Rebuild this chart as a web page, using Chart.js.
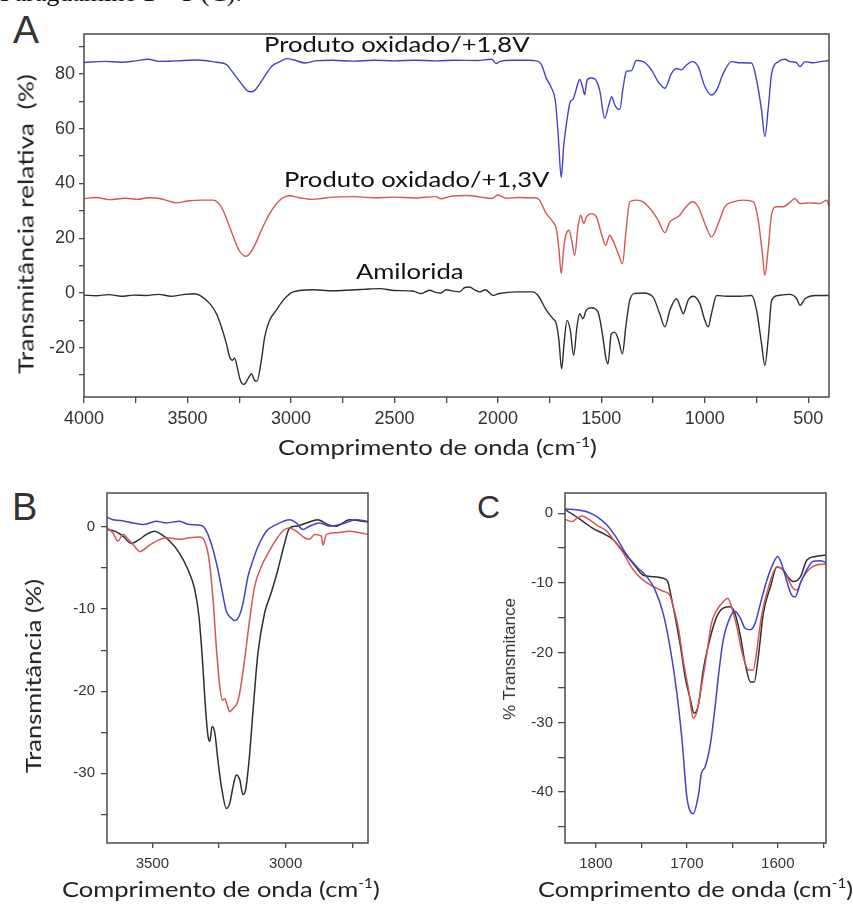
<!DOCTYPE html>
<html>
<head>
<meta charset="utf-8">
<script src="https://cdn.jsdelivr.net/npm/chart.js@4.4.1/dist/chart.umd.min.js"></script>
<style>
  body { margin: 0; width: 853px; height: 907px; position: relative; background: #fff; overflow: hidden; }
  canvas { position: absolute; }
  .txt { position: absolute; white-space: nowrap; color: #222; font-family: Lato, "Open Sans", sans-serif; }
  .letter { position: absolute; font-family: "Liberation Sans", Arial, sans-serif; color: #333; line-height: 1; }
  .xtitle { transform-origin: 0 50%; }
  .ytitle { transform: translate(-50%, -50%) rotate(-90deg) scaleX(var(--sx)); }
  sup { font-size: 0.6em; vertical-align: 0.65em; line-height: 0; }
  #head { position: absolute; left: 0; top: -20px; font: 26px/26px "Liberation Serif", "Times New Roman", serif; color: #111; white-space: nowrap; }
</style>
</head>
<body>
<div id="head">Paraguamine 1 – 3 (C).</div>

<div class="letter" style="left:13px;top:10px;font-size:39px">A</div>
<div class="letter" style="left:12px;top:488px;font-size:38px">B</div>
<div class="letter" style="left:477px;top:491px;font-size:32px">C</div>

<canvas id="chartA" width="853" height="470" style="left:0;top:0"></canvas>
<canvas id="chartB" width="430" height="437" style="left:0;top:470px"></canvas>
<canvas id="chartC" width="423" height="437" style="left:430px;top:470px"></canvas>

<div class="txt ytitle" style="left:25px;top:224px;font-size:21px;line-height:25px;--sx:1.26">Transmitância relativa&nbsp; (%)</div>
<div class="txt xtitle" style="left:278px;top:434px;font-size:21px;line-height:25px;transform:scaleX(1.22)">Comprimento de onda (cm<sup>-1</sup>)</div>

<div class="txt ytitle" style="left:33px;top:676px;font-size:22px;line-height:26px;--sx:1.16">Transmitância (%)</div>
<div class="txt xtitle" style="left:62px;top:876px;font-size:22px;line-height:26px;transform:scaleX(1.16)">Comprimento de onda (cm<sup>-1</sup>)</div>

<div class="txt ytitle" style="left:510px;top:659px;font-size:17px;line-height:20px;font-family:'Liberation Sans',Arial,sans-serif;color:#333;--sx:1">% Transmitance</div>
<div class="txt xtitle" style="left:538px;top:876px;font-size:22px;line-height:26px;transform:scaleX(1.15)">Comprimento de onda (cm<sup>-1</sup>)</div>

<script>
// ---------- panel A : full spectra ----------
const aWave18 = [4000, 3900, 3820, 3750, 3690, 3640, 3550, 3450, 3360, 3312, 3290, 3260, 3230, 3210, 3194, 3175, 3150, 3120, 3090, 3054, 3020, 2980, 2930, 2880, 2800, 2700, 2600, 2500, 2400, 2300, 2200, 2100, 2030, 2008, 1990, 1930, 1850, 1815, 1790, 1766, 1745, 1721, 1708, 1694, 1681, 1666, 1650, 1637, 1623, 1605, 1592, 1581, 1569, 1550, 1532, 1508, 1484, 1463, 1450, 1435, 1411, 1395, 1379, 1355, 1331, 1298, 1258, 1226, 1193, 1161, 1137, 1113, 1089, 1060, 1032, 1000, 968, 943, 911, 871, 830, 774, 750, 726, 710, 693, 677, 645, 613, 589, 560, 540, 516, 476, 443, 400];
const aT18 = [84.2, 84.6, 84.3, 84.8, 85.4, 84.6, 84.8, 85.1, 84.3, 83.5, 81.5, 78.5, 75.5, 73.8, 73.5, 74, 76.5, 80, 83, 84.5, 85.6, 85, 84, 84.8, 85, 84.7, 85, 84.8, 85, 84.8, 85, 84.9, 85.4, 83.8, 84.6, 85, 85, 84.8, 83.5, 78.4, 75.5, 69.3, 57, 42.2, 54.6, 63.2, 69.9, 70.7, 74, 78, 75.6, 72.4, 77.8, 78.5, 78.2, 74, 63.8, 69, 71.7, 68.6, 67, 75, 80.9, 81.2, 84.9, 84.5, 81.5, 77.2, 74.8, 80.2, 82, 81.5, 83.3, 84.5, 82.7, 75.4, 72.3, 74.1, 80.2, 84.5, 84.1, 84, 77.8, 66.8, 57.1, 68, 80.2, 84.5, 85.4, 84.5, 84.3, 82.7, 84.5, 84.1, 84.5, 84.9];

const aWave13 = [4000, 3940, 3880, 3800, 3740, 3690, 3640, 3600, 3553, 3500, 3430, 3376, 3350, 3328, 3296, 3272, 3251, 3231, 3215, 3199, 3175, 3143, 3103, 3054, 3006, 2960, 2900, 2862, 2800, 2700, 2600, 2500, 2400, 2300, 2275, 2230, 2150, 2080, 2030, 2000, 1960, 1900, 1830, 1806, 1766, 1734, 1718, 1705, 1694, 1681, 1669, 1656, 1643, 1629, 1613, 1600, 1585, 1572, 1548, 1524, 1500, 1479, 1460, 1444, 1419, 1398, 1382, 1363, 1331, 1298, 1258, 1226, 1193, 1169, 1145, 1121, 1097, 1060, 1032, 1000, 968, 935, 903, 863, 814, 766, 742, 722, 710, 693, 677, 653, 621, 590, 565, 540, 492, 443, 411, 400];
const aT13 = [34.5, 34.9, 34.1, 34.6, 34.2, 34.8, 34.6, 33.8, 32.9, 33.6, 33.9, 33.9, 32.8, 30.2, 24.1, 19.3, 15.6, 13.8, 13.4, 14.4, 17.4, 22.9, 29, 33.9, 35.5, 34.8, 34.2, 34.4, 35, 35.2, 34.8, 35, 34.7, 35.2, 34.4, 35.3, 35.6, 35, 34.5, 35.8, 34.6, 34.9, 34.8, 34.5, 29, 26, 23.5, 16, 7.1, 17, 21.7, 22.9, 19, 13.8, 24.1, 28.4, 25.4, 27.8, 29, 27.8, 21.7, 17.4, 21.1, 19.2, 14.4, 10.7, 21.7, 33.3, 33.9, 33.3, 30.2, 26.6, 22, 26, 27.2, 28.4, 30.9, 33.3, 31.5, 25.4, 20.5, 25.4, 31.5, 33.3, 33.9, 33.3, 26.6, 14.4, 6.5, 16.8, 29, 31.5, 31.5, 33, 34.5, 32.7, 32.9, 32.7, 33.9, 31.5];

const aWaveAm = [4000, 3940, 3880, 3820, 3760, 3700, 3640, 3580, 3520, 3470, 3440, 3392, 3360, 3336, 3312, 3296, 3283, 3272, 3260, 3247, 3228, 3207, 3191, 3175, 3164, 3143, 3127, 3103, 3071, 3038, 2990, 2894, 2800, 2733, 2650, 2572, 2500, 2411, 2371, 2331, 2300, 2275, 2250, 2210, 2185, 2160, 2137, 2110, 2089, 2060, 2024, 1992, 1911, 1831, 1806, 1766, 1734, 1718, 1705, 1692, 1679, 1666, 1650, 1634, 1618, 1605, 1589, 1573, 1548, 1516, 1495, 1479, 1468, 1452, 1436, 1419, 1398, 1382, 1363, 1339, 1298, 1250, 1218, 1193, 1169, 1137, 1113, 1105, 1081, 1056, 1024, 1000, 984, 968, 943, 895, 830, 774, 750, 726, 710, 693, 677, 645, 589, 556, 540, 516, 460, 400];
const aTAm = [-0.8, -1, -0.6, -1.2, -0.8, -0.9, -0.5, -1.2, -0.6, -0.3, -0.9, -3.9, -7.6, -12.4, -18.5, -23.4, -24.6, -23.8, -27, -31.3, -33.4, -31.3, -29.5, -32, -32.2, -24.6, -16.1, -10, -6.3, -2.7, 0.4, 1.2, 0.8, 1, 1.3, 1.6, 0.9, 0.7, -0.2, 1, 0.2, 0, 1.2, 0.6, 0.4, 2, 2.2, 1, 0.4, 1.2, -0.9, -0.2, 0.4, 0.4, -0.9, -6.3, -9.4, -11.2, -17.3, -27.7, -17.3, -10, -13.7, -22.8, -12.4, -7.6, -9.4, -6.3, -5.4, -7, -14.9, -23.4, -25.9, -14.9, -14.3, -16.7, -22.2, -12.4, -2.7, -0.2, 0, -1.5, -7.6, -12.4, -6.3, -2.1, -6.3, -7.6, -2.7, -1.2, -3.9, -10, -12.4, -7.6, -0.9, -1.2, -1.2, -0.9, -6.3, -18.5, -26.5, -16.1, -2.7, -0.9, -0.5, -2.1, -4.5, -2.1, -0.9, -0.9];

const aTickX = [500, 750, 1000, 1250, 1500, 1750, 2000, 2250, 2500, 2750, 3000, 3250, 3500, 3750, 4000];
const aLabelX = [500, 1000, 1500, 2000, 2500, 3000, 3500, 4000];
const aTickY = [-30, -20, -10, 0, 10, 20, 30, 40, 50, 60, 70, 80, 90];
const aLabelY = [-20, 0, 20, 40, 60, 80];
const aCurveNames = ["Produto oxidado/+1,8V", "Produto oxidado/+1,3V", "Amilorida"];

// ---------- panel B : O-H / N-H region ----------
const bWave18 = [3670, 3648, 3620, 3572, 3535, 3485, 3447, 3398, 3360, 3316, 3297, 3272, 3254, 3237, 3222, 3204, 3191, 3175, 3160, 3141, 3122, 3104, 3072, 3035, 2985, 2960, 2935, 2910, 2872, 2835, 2785, 2735, 2691];
const bT18 = [1.2, 0.9, 0.8, 0.5, 0.3, 0.7, 0.5, 0.7, 0.3, 0.2, -0.5, -2.8, -5.2, -8, -10.3, -11.1, -11.4, -10.9, -9.3, -6, -4, -2.4, -0.5, 0.3, 0.9, 0.5, -0.3, 0.1, 0.5, 0.1, 0.4, 0.9, 0.7];

const bWave13 = [3670, 3648, 3629, 3610, 3590, 3560, 3548, 3510, 3472, 3447, 3398, 3360, 3322, 3304, 3287, 3272, 3260, 3247, 3237, 3229, 3220, 3210, 3197, 3182, 3170, 3154, 3135, 3116, 3091, 3066, 3035, 3004, 2985, 2960, 2929, 2910, 2891, 2866, 2860, 2847, 2810, 2760, 2722, 2691];
const bT13 = [-0.1, -0.7, -1.7, -0.9, -1.5, -2.6, -3, -2.2, -1.5, -1.3, -1.5, -1.3, -1.2, -1.7, -4, -8.9, -14.6, -19.4, -21.1, -20.9, -21.6, -22.5, -22.1, -21.5, -19.8, -16.2, -11.3, -7.2, -4.8, -3.2, -1.5, -0.3, -0.1, -0.5, -1.3, -1.5, -0.9, -1.1, -2.2, -0.9, -0.7, -0.5, -0.7, -0.9];

const bWaveAm = [3670, 3641, 3610, 3579, 3548, 3522, 3491, 3466, 3435, 3398, 3366, 3341, 3325, 3312, 3300, 3291, 3284, 3276, 3266, 3254, 3241, 3222, 3210, 3197, 3185, 3172, 3160, 3150, 3137, 3122, 3104, 3079, 3054, 3029, 3004, 2985, 2960, 2922, 2879, 2841, 2810, 2760, 2729, 2691];
const bTAm = [-0.3, -0.5, -1.1, -2, -1.5, -0.9, -0.5, -0.9, -1.7, -3.2, -5.2, -7.6, -10.9, -16.2, -22.3, -25.5, -26.1, -24.3, -25, -28.4, -31.6, -34.3, -33.7, -31.6, -30.2, -30.8, -32.6, -32, -28.4, -22.3, -15.4, -10.5, -8, -5.2, -2, -0.1, 0.1, 0.5, 0.9, 0.3, 0.1, 0.9, 0.8, 0.6];

const bTickX = [2750, 3000, 3250, 3500];
const bLabelX = [3000, 3500];
const bTickY = [-35, -30, -25, -20, -15, -10, -5, 0];
const bLabelY = [-30, -20, -10, 0];

// ---------- panel C : C=O region ----------
const cWave18 = [1834, 1821, 1810, 1799, 1788, 1777, 1766, 1755, 1744, 1735, 1726, 1718, 1711, 1705, 1700, 1693, 1687, 1684, 1680, 1674, 1669, 1665, 1660, 1652, 1647, 1641, 1636, 1630, 1625, 1619, 1612, 1605, 1600, 1596, 1590, 1585, 1581, 1575, 1568, 1561, 1553, 1547];
const cT18 = [0.6, 0.5, 0.2, -0.5, -1.7, -3.6, -6, -7.7, -9.1, -11, -14.4, -19.6, -25.8, -33, -40.7, -43.1, -40.2, -37.3, -36.4, -33, -27.8, -23, -18.2, -14.8, -14.1, -15.1, -16.5, -16.7, -15.8, -12.9, -9.6, -7.2, -6.2, -7.2, -9.8, -11.7, -12, -10, -8.1, -6.9, -6.8, -7.1];

const cWave13 = [1834, 1826, 1821, 1815, 1810, 1799, 1788, 1779, 1770, 1759, 1748, 1737, 1726, 1719, 1715, 1709, 1704, 1698, 1693, 1689, 1684, 1678, 1673, 1667, 1660, 1655, 1651, 1645, 1640, 1632, 1627, 1623, 1618, 1610, 1601, 1596, 1590, 1583, 1579, 1574, 1566, 1557, 1547];
const cT13 = [-0.9, -1.2, -0.7, -0.4, -0.7, -1.7, -2.6, -4.1, -5.7, -8.1, -9.6, -10.5, -11.2, -11.7, -13.4, -16.7, -21.1, -25.4, -29.4, -28.5, -24.9, -20.1, -15.8, -13.9, -12.7, -12.2, -13.4, -16.3, -19.6, -22.5, -22.5, -19.6, -14.8, -10.5, -7.7, -7.9, -9.1, -10.8, -11, -9.6, -8.1, -7.4, -7.3];

const cWaveAm = [1834, 1825, 1814, 1803, 1792, 1781, 1770, 1759, 1748, 1737, 1727, 1721, 1718, 1713, 1707, 1702, 1696, 1692, 1687, 1682, 1674, 1667, 1660, 1652, 1647, 1641, 1636, 1630, 1626, 1621, 1616, 1608, 1601, 1594, 1588, 1583, 1575, 1568, 1559, 1547];
const cTAm = [0.5, -0.2, -1.2, -2.2, -2.9, -3.8, -5.5, -7.2, -8.9, -9.1, -9.3, -9.8, -11.5, -14.8, -19.1, -23.4, -26.8, -28.7, -27.3, -22.5, -17.7, -14.8, -13.6, -13.4, -14.4, -17.7, -21.5, -24.2, -24.2, -20.1, -14.4, -10.5, -7.7, -8.1, -9.3, -9.8, -9.1, -6.7, -6.2, -6];

const cTickX = [1550, 1600, 1650, 1700, 1750, 1800];
const cLabelX = [1600, 1700, 1800];
const cTickY = [-45, -40, -35, -30, -25, -20, -15, -10, -5, 0];
const cLabelY = [-40, -30, -20, -10, 0];

const BLUE = "#4343c4";
const RED = "#d45656";
const BLACK = "#2e2e2e";

Chart.defaults.animation = false;
Chart.defaults.plugins.legend.display = false;
Chart.defaults.plugins.tooltip.enabled = false;

function toPoints(xs, ys) {
  return xs.map((x, i) => ({ x: x, y: ys[i] }));
}

function series(xs, ys, color, width) {
  return {
    data: toPoints(xs, ys),
    borderColor: color,
    borderWidth: width,
    pointRadius: 0,
    fill: false,
    cubicInterpolationMode: "monotone",
  };
}

const framePlugin = {
  id: "frame",
  afterDraw(chart) {
    const { ctx, chartArea: a } = chart;
    ctx.save();
    ctx.strokeStyle = "#4a4a4a";
    ctx.lineWidth = 1.5;
    ctx.strokeRect(a.left, a.top, a.right - a.left, a.bottom - a.top);
    ctx.restore();
  },
};

// text written next to each curve, anchored in data units
const curveLabels = {
  id: "curveLabels",
  afterDatasetsDraw(chart, args, opts) {
    if (!opts.items) return;
    const { ctx } = chart;
    const x = chart.scales.x;
    const y = chart.scales.y;
    ctx.save();
    ctx.font = opts.font;
    ctx.fillStyle = opts.color;
    ctx.textBaseline = "alphabetic";
    opts.items.forEach((it) => {
      ctx.save();
      ctx.translate(x.getPixelForValue(it.x), y.getPixelForValue(it.y));
      ctx.scale(opts.stretch, 1);
      ctx.fillText(it.text, 0, 0);
      ctx.restore();
    });
    ctx.restore();
  },
};

function axis(opt) {
  return {
    type: "linear",
    min: opt.min,
    max: opt.max,
    reverse: !!opt.reverse,
    border: { display: false },
    grid: {
      drawOnChartArea: false,
      drawTicks: true,
      tickLength: opt.tickLength,
      color: "#4a4a4a",
      lineWidth: 1.3,
    },
    ticks: {
      autoSkip: false,
      maxRotation: 0,
      padding: opt.padding,
      color: "#333",
      font: opt.font,
      callback: (v) => (opt.labels.includes(v) ? String(v) : ""),
    },
    afterBuildTicks: (s) => {
      s.ticks = opt.ticks.map((v) => ({ value: v }));
    },
    afterFit: (s) => {
      if (opt.width) s.width = opt.width;
      if (opt.height) s.height = opt.height;
    },
  };
}

function makeChart(id, datasets, o) {
  return new Chart(document.getElementById(id), {
    type: "line",
    data: { datasets: datasets },
    options: {
      responsive: false,
      layout: { padding: { top: o.top, right: o.right, left: 0, bottom: 0 } },
      scales: { x: o.x, y: o.y },
      plugins: { curveLabels: o.curveLabels || {} },
    },
    plugins: [framePlugin, curveLabels],
  });
}

const narrowFont = { family: "'Liberation Sans Narrow', 'Liberation Sans', Arial, sans-serif", size: 18 };
const plainFont = { family: "'Liberation Sans', Arial, sans-serif", size: 15 };

makeChart(
  "chartA",
  [
    series(aWave18, aT18, BLUE, 1.4),
    series(aWave13, aT13, RED, 1.4),
    series(aWaveAm, aTAm, BLACK, 1.4),
  ],
  {
    top: 34,
    right: 24,
    x: axis({ min: 400, max: 4000, reverse: true, ticks: aTickX, labels: aLabelX, tickLength: 6, padding: 5, font: narrowFont, height: 73 }),
    y: axis({ min: -38, max: 94.6, ticks: aTickY, labels: aLabelY, tickLength: 5, padding: 4, font: narrowFont, width: 84 }),
    curveLabels: {
      font: "21px Lato, 'Open Sans', sans-serif",
      color: "#111",
      stretch: 1.22,
      items: [
        { text: aCurveNames[0], x: 3130, y: 88 },
        { text: aCurveNames[1], x: 3034, y: 38.6 },
        { text: aCurveNames[2], x: 2686, y: 5 },
      ],
    },
  }
);

makeChart(
  "chartB",
  [
    series(bWave18, bT18, BLUE, 1.5),
    series(bWave13, bT13, RED, 1.5),
    series(bWaveAm, bTAm, BLACK, 1.5),
  ],
  {
    top: 23,
    right: 62,
    x: axis({ min: 2691, max: 3670, reverse: true, ticks: bTickX, labels: bLabelX, tickLength: 5, padding: 7, font: plainFont, height: 64 }),
    y: axis({ min: -38.5, max: 4.15, ticks: bTickY, labels: bLabelY, tickLength: 6, padding: 6, font: plainFont, width: 107 }),
  }
);

makeChart(
  "chartC",
  [
    series(cWave18, cT18, BLUE, 1.5),
    series(cWave13, cT13, RED, 1.5),
    series(cWaveAm, cTAm, BLACK, 1.5),
  ],
  {
    top: 23,
    right: 27,
    x: axis({ min: 1547, max: 1834, reverse: true, ticks: cTickX, labels: cLabelX, tickLength: 5, padding: 7, font: plainFont, height: 64 }),
    y: axis({ min: -47.3, max: 2.9, ticks: cTickY, labels: cLabelY, tickLength: 7, padding: 5, font: plainFont, width: 135 }),
  }
);
</script>
</body>
</html>
